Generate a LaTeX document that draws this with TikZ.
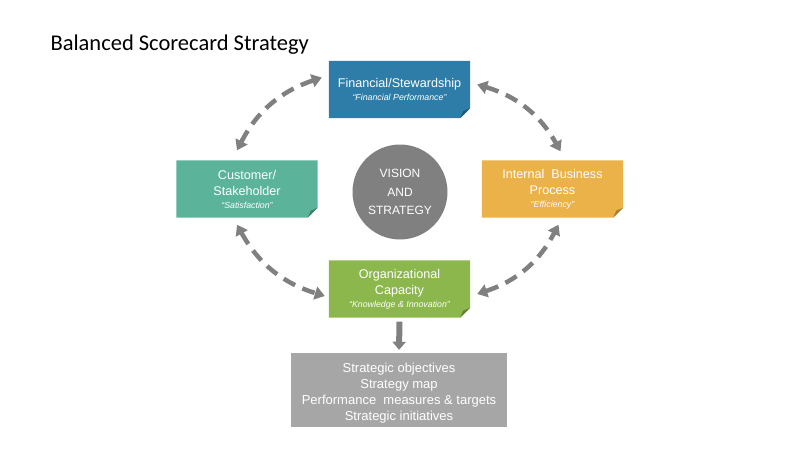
\documentclass[tikz,border=0pt]{standalone}
\usepackage{fontspec}
\setmainfont{Liberation Sans}
\newfontfamily\titlefont{Carlito}
\usetikzlibrary{arrows.meta,backgrounds}
\definecolor{cfin}{RGB}{46,125,168}
\definecolor{ccus}{RGB}{91,180,154}
\definecolor{cint}{RGB}{234,178,72}
\definecolor{corg}{RGB}{140,183,76}
\definecolor{cgray}{RGB}{128,128,128}
\definecolor{cbot}{RGB}{166,166,166}
\newcommand{\subtxt}[1]{{\fontsize{8.8}{10}\selectfont\itshape #1}}
\tikzset{
  card/.style={minimum width=141pt,minimum height=57pt,inner sep=2pt,align=center,
    text=white,font=\fontsize{12.6}{16}\selectfont},
  dasharrow/.style={draw=cgray,line width=4.5pt,dash pattern=on 13pt off 8pt,
    {Triangle[length=10pt,width=13pt]}-{Triangle[length=10pt,width=13pt]}},
}
\newcommand{\foldcard}[2]{%
  \fill[#2] (#1.north west) -- (#1.north east) -- ([yshift=10pt]#1.south east)
     -- ([xshift=-10pt]#1.south east) -- (#1.south west) -- cycle;
  \fill[#2!70!black] ([yshift=10pt]#1.south east) -- ([xshift=-10pt]#1.south east)
     -- ([xshift=-7pt,yshift=7pt]#1.south east) -- cycle;}
\begin{document}
\begin{tikzpicture}[x=1pt,y=-1pt]
\useasboundingbox (0,0) rectangle (800,450);
\node[anchor=base west,font=\titlefont\fontsize{22.5}{26}\selectfont] (title) at (47,50) {Balanced Scorecard Strategy};

\node[card] (fin) at (399.5,89.5) {Financial/Stewardship\\[-3pt]\subtxt{``Financial Performance''}};
\node[card] (cus) at (247,189) {Customer/\\Stakeholder\\[-3pt]\subtxt{``Satisfaction''}};
\node[card] (int) at (552.5,189) {Internal\ \ Business\\Process\\[-3pt]\subtxt{``Efficiency''}};
\node[card] (org) at (399.5,289) {Organizational\\Capacity\\[-3pt]\subtxt{``Knowledge \& Innovation''}};

\node[circle,fill=cgray,minimum size=95pt,inner sep=0pt,text=white,align=center,
  font=\fontsize{12}{18.5}\selectfont] (vis) at (400,192) {VISION\\AND\\STRATEGY};

\node[fill=cbot,minimum width=216pt,minimum height=74pt,text=white,align=center,
  font=\fontsize{13}{15.8}\selectfont] (obj) at (399,390)
  {\rule{0pt}{16pt}Strategic objectives\\Strategy map\\Performance\ \ measures \& targets\\Strategic initiatives};

\begin{scope}[on background layer]
  \foldcard{fin}{cfin}
  \foldcard{cus}{ccus}
  \foldcard{int}{cint}
  \foldcard{org}{corg}
\end{scope}

\draw[dasharrow] ([shift={(-7,-12)}]fin.west) to[bend right=22] ([shift={(-10,-10)}]cus.north);
\draw[dasharrow] ([shift={(7,-5)}]fin.east) to[bend left=22] ([shift={(8,-9)}]int.north);
\draw[dasharrow] ([shift={(-10,7)}]cus.south) to[bend right=22] ([shift={(-4,7)}]org.west);
\draw[dasharrow] ([shift={(7,5)}]org.east) to[bend right=22] ([shift={(6,7)}]int.south);

\draw[draw=cgray,line width=6pt,-{Triangle[length=8pt,width=13pt]}] ([yshift=-4pt]org.south) -- ([yshift=3pt]obj.north);
\end{tikzpicture}
\end{document}
